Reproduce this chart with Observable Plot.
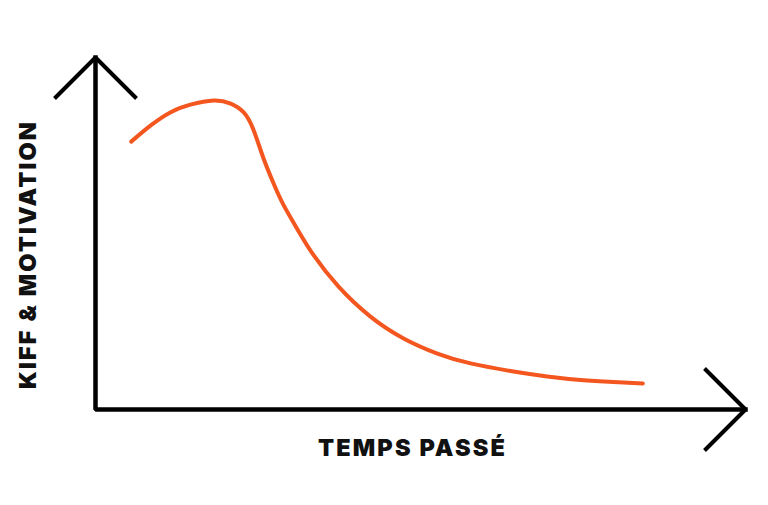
<!DOCTYPE html>
<html>
<head>
<meta charset="utf-8">
<script src="https://cdn.jsdelivr.net/npm/d3@7"></script>
<script src="https://cdn.jsdelivr.net/npm/@observablehq/plot@0.6"></script>
<style>
  html, body { margin: 0; padding: 0; background: #ffffff; }
  #chart { width: 768px; height: 505px; }
  #chart text.lbl { letter-spacing: 2.1px; }
</style>
</head>
<body>
<div id="chart"></div>
<script>
// Conceptual chart: time spent (0–100) vs fun & motivation (0–100)
const timeSpent = [5.5, 8.5, 11.5, 14.6, 18.2, 20.8, 22.8, 24.3, 25.8, 27.4, 28.9, 31.1, 33.5, 37.4, 42.3, 47.4, 52.6, 57.7, 64.3, 69.5, 74.6, 79.7, 84.2];
const motivation = [76.1, 80.7, 84.4, 86.6, 87.8, 86.9, 84.4, 79.5, 71.6, 64.2, 58.2, 51.1, 44.0, 34.9, 26.4, 20.2, 15.9, 13.1, 10.8, 9.4, 8.4, 7.8, 7.4];
const xLabel = "TEMPS PASSÉ";
const yLabel = "KIFF & MOTIVATION";

const curve = timeSpent.map((t, i) => ({t, m: motivation[i]}));

const W = 768, H = 505;
const mL = 95, mR = 23, mT = 57, mB = 96;
const xMax = 100, yMax = 100;
// pixel -> data unit factors
const kx = (W - mL - mR) / xMax, ky = (H - mT - mB) / yMax;
// arrowhead arm size in pixels, converted into data units
const armPx = 41;
const ax = armPx / kx, ay = armPx / ky;

const axesPath = [{x: 0, y: yMax}, {x: 0, y: 0}, {x: xMax, y: 0}];
const yHead = [{x: -ax, y: yMax - ay}, {x: 0, y: yMax}, {x: ax, y: yMax - ay}];
const xHead = [{x: xMax - ax, y: ay}, {x: xMax, y: 0}, {x: xMax - ax, y: -ay}];

// label anchors (offsets from the axes, in pixels, converted)
const xLabelPos = {x: (412 - mL) / kx, y: -39 / ky};
const yLabelPos = {x: -67 / kx, y: (H - mB - 254) / ky};

const font = "Inter, 'DejaVu Sans', sans-serif";

const chart = Plot.plot({
  width: W,
  height: H,
  marginLeft: mL,
  marginRight: mR,
  marginTop: mT,
  marginBottom: mB,
  x: {domain: [0, xMax], axis: null},
  y: {domain: [0, yMax], axis: null},
  style: {background: "#ffffff", overflow: "visible"},
  marks: [
    Plot.line(axesPath, {x: "x", y: "y", stroke: "#000", strokeWidth: 4.5, strokeLinejoin: "miter", strokeLinecap: "square"}),
    Plot.line(yHead, {x: "x", y: "y", stroke: "#000", strokeWidth: 4, strokeLinejoin: "miter", strokeLinecap: "butt"}),
    Plot.line(xHead, {x: "x", y: "y", stroke: "#000", strokeWidth: 4, strokeLinejoin: "miter", strokeLinecap: "butt"}),
    Plot.line(curve, {x: "t", y: "m", curve: "natural", stroke: "#f4561f", strokeWidth: 4, strokeLinecap: "round"}),
    Plot.text([xLabel], {x: () => xLabelPos.x, y: () => xLabelPos.y, text: d => d, fontSize: 23.5, fontWeight: 900, fontFamily: font, fill: "#111", lineAnchor: "middle"}),
    Plot.text([yLabel], {x: () => yLabelPos.x, y: () => yLabelPos.y, rotate: -90, text: d => d, fontSize: 23.5, fontWeight: 900, fontFamily: font, fill: "#111", lineAnchor: "middle"})
  ]
});
chart.querySelectorAll("text").forEach(t => t.classList.add("lbl"));
document.getElementById("chart").appendChild(chart);
</script>
</body>
</html>
